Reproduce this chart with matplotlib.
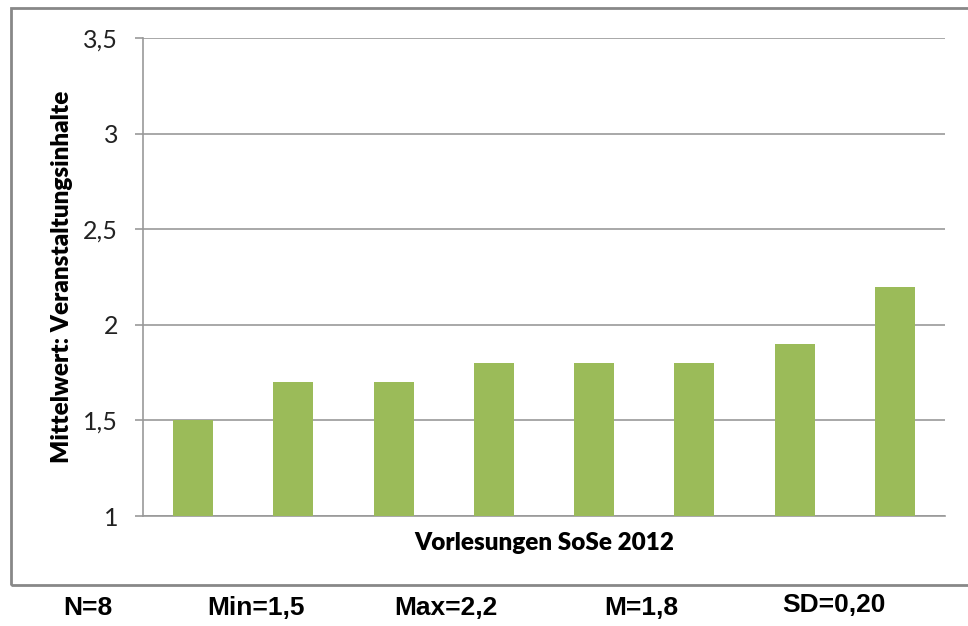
import matplotlib
matplotlib.use("Agg")
import matplotlib.pyplot as plt
from matplotlib.patches import Rectangle

categories = [f"V{i}" for i in range(1, 9)]
values = [1.5, 1.7, 1.7, 1.8, 1.8, 1.8, 1.9, 2.2]
yticks = [1, 1.5, 2, 2.5, 3, 3.5]
ytick_labels = ["1", "1,5", "2", "2,5", "3", "3,5"]
stats = ["N=8", "Min=1,5", "Max=2,2", "M=1,8", "SD=0,20"]
stats_x = [88, 256, 446, 641, 834]
stats_y = [608, 608, 608, 608, 605]

W, H = 968, 626
fig = plt.figure(figsize=(W / 100, H / 100), dpi=100)
fig.patch.set_facecolor("white")

ax = fig.add_axes([143 / W, 1 - 516 / H, (945 - 143) / W, (516 - 38) / H])
x = list(range(len(categories)))
ax.bar(x, [v - 1 for v in values], bottom=1, width=0.4, color="#9BBB59", zorder=3)
ax.set_xlim(-0.5, len(categories) - 0.5)
ax.set_ylim(1, 3.5)
ax.set_yticks(yticks)
ax.set_yticklabels(ytick_labels, fontsize=18, family="Lato", color="#222222")
ax.set_xticks([])
ax.grid(axis="y", color="#999999", linewidth=1.2, zorder=0)
for s in ["top", "right"]:
    ax.spines[s].set_visible(False)
ax.spines["left"].set_color("#999999")
ax.spines["bottom"].set_color("#999999")
ax.spines["left"].set_linewidth(1.2)
ax.spines["bottom"].set_linewidth(1.2)
ax.tick_params(axis="y", length=6, width=1.2, color="#999999", pad=12)
ax.set_ylabel("Mittelwert: Veranstaltungsinhalte", fontsize=17.5, fontweight="heavy",
              family="Lato")
ax.yaxis.set_label_coords((62 - 143) / (945 - 143), 0.5)
ax.set_xlabel("Vorlesungen SoSe 2012", fontsize=17.5, fontweight="heavy", family="Lato")
ax.xaxis.set_label_coords(0.5, -(543 - 516) / (516 - 38))
ax.xaxis.label.set_va("center")
ax.yaxis.label.set_va("center")

box = Rectangle((11 / W, 1 - 585 / H), 1.2, (585 - 8) / H, transform=fig.transFigure,
                fill=False, edgecolor="#888888", linewidth=2, clip_on=False)
fig.patches.append(box)

for s, sx, sy in zip(stats, stats_x, stats_y):
    fig.text(sx / W, 1 - sy / H, s, ha="center", va="center", fontsize=19,
             fontweight="bold", family="Liberation Sans")

fig.savefig("out.png", dpi=100)
